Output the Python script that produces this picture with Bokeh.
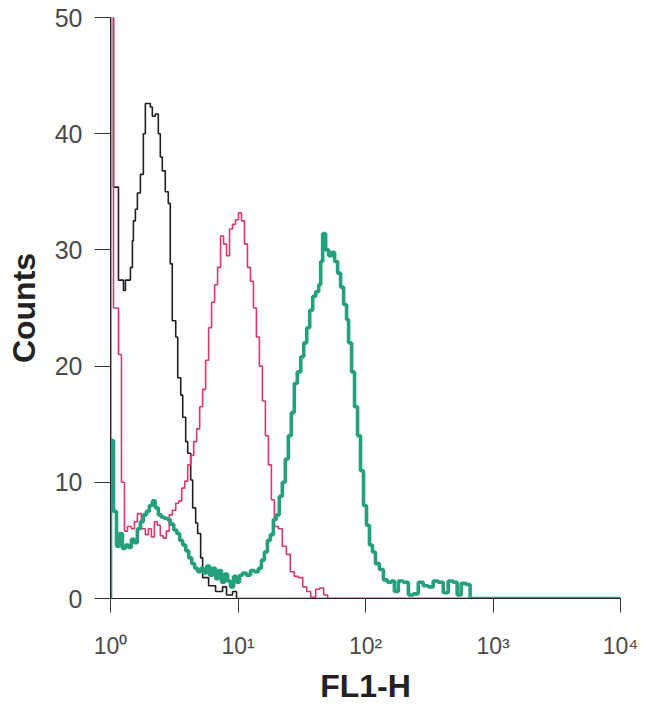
import numpy as np
from bokeh.plotting import figure
from bokeh.models import Range1d, FixedTicker
from bokeh.embed import file_html
from bokeh.resources import INLINE

# 1024-channel, 4-decade log scale: FL1-H = 10 ** (channel / 256)
black_channel = [0, 6, 16, 26, 30, 40, 44, 46, 50, 54, 60, 66, 70, 76, 80, 84, 90, 96, 100, 104,
                 110, 116, 120, 124, 131, 135, 141, 145, 151, 155, 161, 165, 171, 175, 181, 185,
                 197, 211, 225, 233, 245, 253, 1024]
black_counts = [60, 35.4, 27.4, 26.5, 27.4, 28.5, 30.8, 32.5, 33.5, 34.9, 36.5, 40.0, 42.6, 42.6,
                42.3, 41.5, 41.7, 40.0, 38.0, 36.8, 35.0, 34.0, 28.8, 23.9, 22.5, 19.0, 17.5, 15.6,
                13.5, 12.5, 10.2, 7.8, 6.5, 5.6, 3.5, 1.8, 1.1, 0.6, 1.0, 0.3, 0.6, 0, 0]

pink_channel = [0, 6, 16, 22, 28, 34, 42, 48, 54, 62, 70, 76, 82, 88, 94, 100, 106, 112, 118, 124,
                131, 137, 143, 149, 155, 161, 167, 173, 179, 185, 191, 197, 203, 209, 215, 221, 227,
                233, 239, 245, 251, 257, 263, 269, 275, 281, 287, 293, 299, 305, 311, 317, 323, 329,
                337, 345, 353, 361, 369, 377, 386, 394, 402, 412, 420, 428, 436, 1024]
pink_counts = [60, 25, 21, 10, 5.8, 6.2, 6.0, 6.6, 7.3, 6.0, 5.5, 6.0, 5.3, 6.6, 6.3, 5.4, 5.2, 5.8,
               7.2, 7.6, 8.2, 8.4, 9.5, 10.1, 11.5, 12.3, 13.5, 14.6, 16.5, 18.0, 20.5, 23.3, 25.5,
               27.0, 28.5, 31.2, 30.5, 29.5, 31.8, 32.2, 32.6, 33.2, 32.5, 30.5, 28.5, 27.3, 25.0,
               22.5, 20.0, 17.0, 14.0, 11.5, 8.5, 6.2, 6.0, 4.5, 3.8, 2.3, 1.9, 1.8, 1.0, 0.6, 0.1,
               0.8, 0.9, 0.3, 0, 0]

teal_channel = [0, 6, 12, 18, 24, 30, 36, 42, 48, 54, 60, 66, 72, 78, 84, 90, 96, 102, 108, 114,
                120, 127, 133, 139, 145, 151, 157, 163, 169, 175, 181, 187, 193, 199, 205, 211, 217,
                223, 229, 235, 241, 247, 253, 259, 265, 273, 281, 289, 297, 303, 309, 315, 321, 327,
                333, 339, 345, 351, 357, 363, 369, 375, 382, 388, 394, 400, 406, 412, 418, 422, 426,
                432, 438, 444, 450, 456, 462, 468, 474, 478, 484, 490, 496, 502, 508, 514, 520, 526,
                532, 540, 548, 556, 564, 570, 578, 588, 598, 608, 618, 628, 638, 648, 658, 668, 678,
                688, 696, 704, 714, 722, 1024]
teal_counts = [13.6, 7.5, 4.5, 5.6, 4.3, 4.6, 4.4, 5.1, 4.8, 6.0, 6.6, 7.2, 7.5, 8.0, 8.4, 7.8, 7.2,
               7.0, 6.9, 6.8, 6.4, 5.9, 5.6, 5.0, 4.6, 4.1, 3.5, 3.0, 2.6, 2.3, 2.6, 2.2, 2.8, 2.0,
               2.6, 1.7, 2.4, 1.4, 2.1, 1.5, 1.0, 1.9, 1.4, 2.0, 2.2, 2.0, 2.4, 2.3, 2.6, 3.3, 4.0,
               5.0, 5.5, 6.8, 7.2, 8.8, 10.0, 12.0, 14.0, 16.0, 18.5, 19.5, 20.8, 22.0, 23.3, 24.8,
               26.0, 26.4, 27.0, 29.0, 31.4, 30.0, 29.5, 29.8, 29.0, 28.0, 26.8, 25.3, 24.0, 22.0,
               19.5, 16.5, 14.0, 11.0, 8.0, 6.3, 4.6, 4.0, 3.0, 2.5, 1.6, 1.4, 1.5, 0.6, 1.5, 1.4,
               0.3, 0.4, 1.4, 1.1, 1.0, 1.5, 1.4, 0.5, 1.5, 1.4, 0.3, 1.3, 1.2, 0, 0]

x_ticks = [1, 10, 100, 1000, 10000]
x_tick_labels = ["10\u2070", "10\u00b9", "10\u00b2", "10\u00b3", "10\u2074"]
y_ticks = [0, 10, 20, 30, 40, 50]

p = figure(width=642, height=708, x_axis_type="log",
           x_range=Range1d(1, 10000), y_range=Range1d(0, 50),
           output_backend="svg", toolbar_location=None,
           min_border_left=110, min_border_right=22, min_border_top=17, min_border_bottom=110)

def draw(ch, counts, color, width):
    ch = [ch[0]] + list(ch)
    counts = [0] + list(counts)
    x = 10 ** (np.array(ch, dtype=float) / 256.0)
    p.step(x, counts, mode="after", line_color=color, line_width=width)

draw(black_channel, black_counts, "#1e1e1e", 1.6)
draw(pink_channel, pink_counts, "#d8386f", 1.6)
draw(teal_channel, teal_counts, "#24a07d", 3.6)

p.xgrid.visible = False
p.ygrid.visible = False
p.outline_line_color = None
p.background_fill_color = "white"

p.xaxis.ticker = FixedTicker(ticks=x_ticks, minor_ticks=[])
p.xaxis.major_label_overrides = {t: l for t, l in zip(x_ticks, x_tick_labels)}
p.yaxis.ticker = FixedTicker(ticks=y_ticks, minor_ticks=[])

for ax in (p.xaxis[0], p.yaxis[0]):
    ax.axis_line_color = "#222222"
    ax.axis_line_width = 1
    ax.major_tick_line_color = "#333333"
    ax.major_tick_in = 0
    ax.minor_tick_line_color = None
    ax.major_label_text_font = "Liberation Sans"
    ax.major_label_text_color = "#4a4a4a"
    ax.axis_label_text_font = "Liberation Sans"
    ax.axis_label_text_font_style = "bold"
    ax.axis_label_text_color = "#222222"
    ax.axis_label_text_font_size = "32px"

p.xaxis.major_tick_out = 14
p.xaxis.major_label_text_font_size = "23px"
p.xaxis.major_label_standoff = 20
p.xaxis.axis_label = "FL1-H"
p.xaxis.axis_label_standoff = 6

p.yaxis.major_tick_out = 16
p.yaxis.major_label_text_font_size = "25px"
p.yaxis.major_label_standoff = 12
p.yaxis.axis_label = "Counts"
p.yaxis.axis_label_standoff = 10

open("out.html", "w").write(file_html(p, INLINE))
